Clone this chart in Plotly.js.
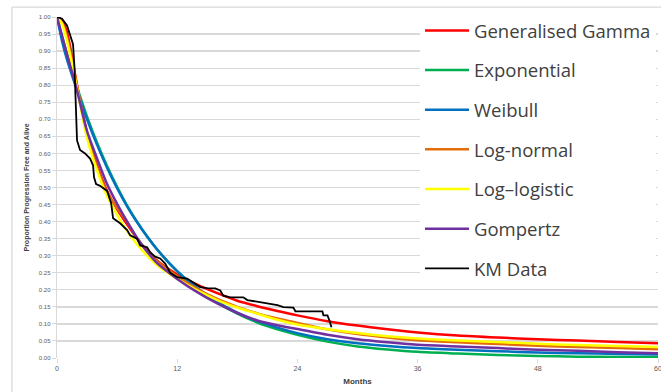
<!DOCTYPE html>
<html>
<head>
<meta charset="utf-8">
<script src="https://cdn.plot.ly/plotly-3.0.1.min.js"></script>
<style>html,body{margin:0;padding:0;background:#fff;}#chart{width:661px;height:392px;}</style>
</head>
<body>
<div id="chart"></div>
<script>
// Months at which the fitted curves were read
const months = [0,0.5,1,2,3,4,5,6,7,8,9,10,12,14,16,18,20,22,24,27,30,33,36,40,44,48,52,56,60];

const genGamma    = [1.0,0.99,0.955,0.80,0.66,0.565,0.49,0.437,0.392,0.35,0.315,0.285,0.245,0.215,0.19,0.168,0.152,0.138,0.125,0.108,0.095,0.084,0.075,0.066,0.06,0.055,0.051,0.047,0.043];
const exponential = [1.0,0.944,0.891,0.794,0.708,0.631,0.563,0.502,0.447,0.399,0.356,0.318,0.254,0.204,0.163,0.13,0.104,0.084,0.068,0.048,0.034,0.025,0.018,0.013,0.009,0.006,0.004,0.003,0.002];
const weibull     = [1.0,0.93,0.875,0.785,0.70,0.625,0.558,0.498,0.445,0.398,0.356,0.318,0.255,0.205,0.165,0.133,0.108,0.089,0.073,0.055,0.043,0.035,0.029,0.024,0.02,0.016,0.014,0.012,0.010];
const logNormal   = [1.0,0.985,0.94,0.80,0.655,0.56,0.485,0.44,0.40,0.35,0.313,0.283,0.24,0.203,0.173,0.15,0.131,0.116,0.103,0.084,0.07,0.06,0.052,0.046,0.041,0.036,0.032,0.029,0.026];
const logLogistic = [1.0,0.98,0.93,0.79,0.645,0.55,0.475,0.42,0.372,0.333,0.30,0.272,0.232,0.198,0.17,0.148,0.13,0.112,0.098,0.084,0.073,0.064,0.057,0.051,0.047,0.042,0.038,0.035,0.032];
const gompertz    = [1.0,0.945,0.89,0.785,0.665,0.585,0.51,0.452,0.40,0.352,0.312,0.278,0.232,0.193,0.16,0.132,0.11,0.096,0.085,0.068,0.055,0.046,0.039,0.034,0.029,0.024,0.021,0.017,0.014];

// Kaplan-Meier data
const kmMonths = [0,0.5,1.0,1.3,1.6,1.75,1.9,2.0,2.3,2.8,3.3,3.6,3.7,3.9,4.3,5.0,5.4,5.6,6.3,7.0,7.3,8.0,8.3,9.0,9.3,9.8,10.3,10.8,11.3,12.0,13.0,13.6,14.3,15.0,15.8,16.3,16.6,17.3,18.6,19.0,20.3,21.0,22.0,22.6,23.6,23.8,26.5,26.6,27.0,27.2,27.4];
const kmSurv   = [1.0,0.995,0.975,0.95,0.92,0.85,0.72,0.638,0.61,0.60,0.585,0.565,0.53,0.51,0.505,0.49,0.455,0.41,0.395,0.375,0.36,0.35,0.33,0.325,0.31,0.297,0.292,0.277,0.25,0.237,0.233,0.222,0.208,0.205,0.204,0.198,0.183,0.178,0.178,0.17,0.164,0.16,0.155,0.149,0.148,0.137,0.137,0.125,0.125,0.11,0.09];

const yTicks = [0,0.05,0.1,0.15,0.2,0.25,0.3,0.35,0.4,0.45,0.5,0.55,0.6,0.65,0.7,0.75,0.8,0.85,0.9,0.95,1.0];
const xTicks = [0,12,24,36,48,60];

const series = [
  {name:'Generalised Gamma', y:genGamma,    color:'#ff0000'},
  {name:'Exponential',       y:exponential, color:'#00b050'},
  {name:'Weibull',           y:weibull,     color:'#0070c0'},
  {name:'Log-normal',        y:logNormal,   color:'#e46c0a'},
  {name:'Log\u2013logistic', y:logLogistic, color:'#ffff00'},
  {name:'Gompertz',          y:gompertz,    color:'#7030a0'}
];

const traces = series.map((s,i) => ({
  x: months, y: s.y, name: s.name, type:'scatter', mode:'lines',
  line:{color:s.color, width:2.5, shape:'spline', smoothing:0.8},
  legendgroup:'g'+i, hoverinfo:'skip'
}));
traces.push({
  x: kmMonths, y: kmSurv, name:'KM Data', type:'scatter', mode:'lines',
  line:{color:'#000000', width:1.8}, legendgroup:'g7', hoverinfo:'skip'
});

const layout = {
  width:661, height:392,
  margin:{l:57, r:3, t:17, b:34},
  paper_bgcolor:'#ffffff', plot_bgcolor:'#ffffff',
  font:{family:'Liberation Sans, Arial, sans-serif', color:'#595959'},
  showlegend:true,
  legend:{x:0.604, y:1.015, xanchor:'left', yanchor:'top',
          bgcolor:'#ffffff', borderwidth:0, tracegroupgap:12.6, itemwidth:44, maxheight:1000,
          font:{family:'Open Sans, sans-serif', size:18.5, color:'#404040'}},
  xaxis:{range:[0,60], tickvals:xTicks, ticktext:xTicks.map(String),
         showgrid:false, zeroline:false, showline:false, ticklabeloverflow:'allow',
         ticks:'outside', ticklen:4, tickcolor:'#d9d9d9',
         tickfont:{size:7, color:'#595959'},
         title:{text:'<b>Months</b>', font:{size:8, color:'#404040'}, standoff:6}},
  yaxis:{range:[0,1], tickvals:yTicks, ticktext:yTicks.map(v=>v.toFixed(2)),
         showgrid:true, gridcolor:'#d9d9d9', gridwidth:1.3,
         zeroline:false, showline:true, linecolor:'#d9d9d9', linewidth:1.3,
         ticks:'outside', ticklen:4, tickcolor:'#d9d9d9',
         tickfont:{size:6, color:'#595959'},
         title:{text:'<b>Proportion Progression Free and Alive</b>', font:{size:7, color:'#404040'}, standoff:8}},
  shapes:[
    {type:'line', xref:'paper', yref:'paper', x0:-0.075, x1:1.01, y0:1.029, y1:1.029, line:{color:'#d9d9d9', width:1.3}},
    {type:'line', xref:'paper', yref:'paper', x0:-0.075, x1:-0.075, y0:1.029, y1:-0.11, line:{color:'#d9d9d9', width:1.3}}
  ]
};

Plotly.newPlot('chart', traces, layout, {displayModeBar:false, staticPlot:true});
</script>
</body>
</html>
